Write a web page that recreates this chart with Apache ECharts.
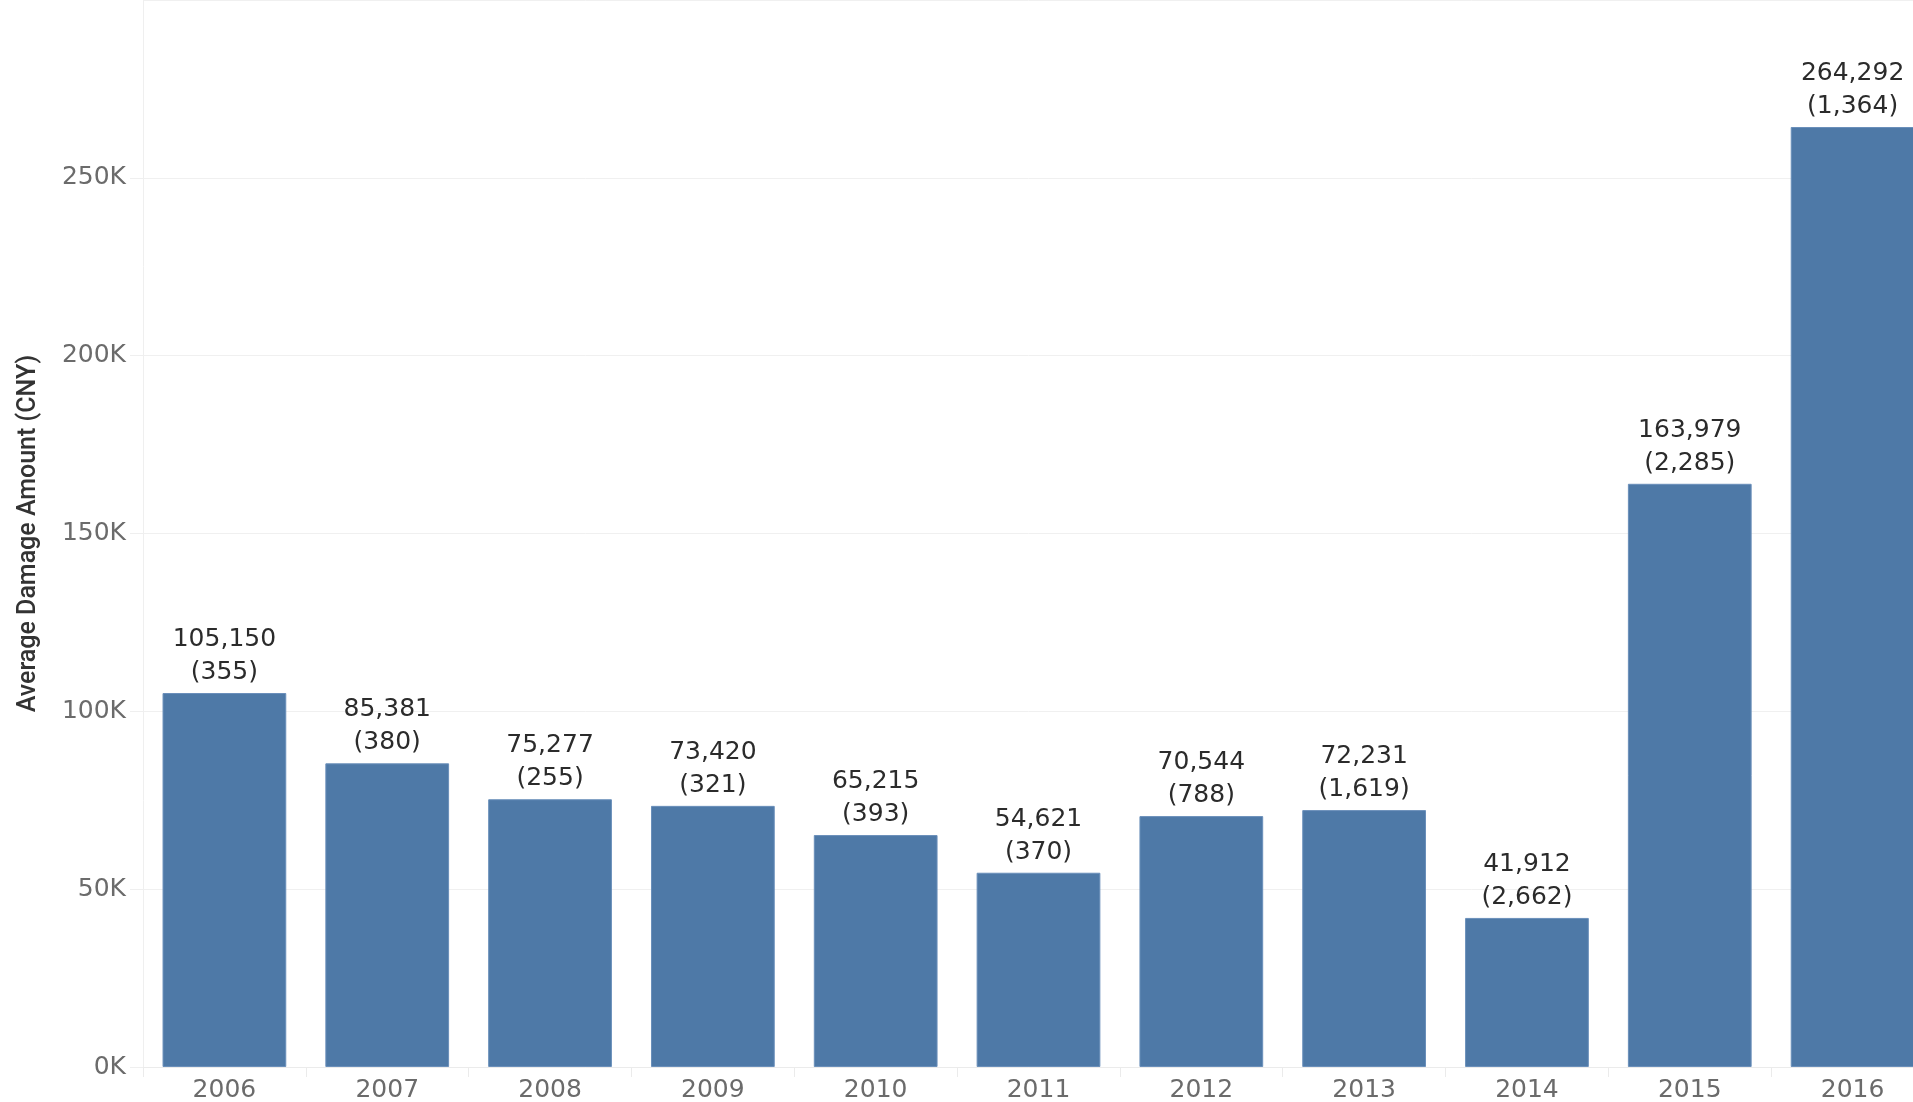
<!DOCTYPE html>
<html>
<head>
<meta charset="utf-8">
<script src="https://cdn.jsdelivr.net/npm/echarts@6/dist/echarts.min.js"></script>
<style>
html,body{margin:0;padding:0;background:#fff;overflow:hidden;}
#chart{width:1913px;height:1102px;}
</style>
</head>
<body>
<div id="chart"></div>
<script>
const years = ['2006','2007','2008','2009','2010','2011','2012','2013','2014','2015','2016'];
const avgDamage = [105150, 85381, 75277, 73420, 65215, 54621, 70544, 72231, 41912, 163979, 264292];
const caseCounts = [355, 380, 255, 321, 393, 370, 788, 1619, 2662, 2285, 1364];
const yTickLabels = ['0K','50K','100K','150K','200K','250K'];

const fmt = v => v.toLocaleString('en-US');
const chart = echarts.init(document.getElementById('chart'));
chart.setOption({
  animation: false,
  backgroundColor: '#ffffff',
  grid: { left: 143, right: -21, top: 0, bottom: 35, containLabel: false, outerBoundsMode: 'none' },
  xAxis: {
    type: 'category',
    data: years,
    axisLine: { show: true, lineStyle: { color: '#ebebeb', width: 1 } },
    axisTick: { show: true, length: 10, lineStyle: { color: '#ebebeb' } },
    axisLabel: { color: '#6b6b6b', fontSize: 25, fontFamily: 'DejaVu Sans, sans-serif', margin: 11 }
  },
  yAxis: {
    type: 'value',
    min: 0,
    max: 300000,
    interval: 50000,
    name: 'Average Damage Amount (CNY)',
    nameLocation: 'middle',
    nameGap: 102,
    nameTextStyle: { color: '#333333', fontSize: 25, fontFamily: 'Roboto, sans-serif', fontWeight: 500 },
    axisLine: { show: true, lineStyle: { color: '#efefef', width: 1 } },
    axisTick: { show: true, length: 13, lineStyle: { color: '#efefef' } },
    axisLabel: {
      color: '#6b6b6b', fontSize: 25, fontFamily: 'DejaVu Sans, sans-serif', margin: 17,
      showMaxLabel: false,
      formatter: v => { const i = Math.round(v / 50000); return i < yTickLabels.length ? yTickLabels[i] : ''; }
    },
    splitLine: { show: true, lineStyle: { color: '#f0f0f0', width: 1 } }
  },
  series: [{
    type: 'bar',
    data: avgDamage,
    barCategoryGap: '24%',
    itemStyle: { color: '#4e79a7', borderColor: '#6a8fba', borderWidth: 1 },
    label: {
      show: true,
      position: 'top',
      distance: 4,
      color: '#2b2b2b',
      fontSize: 25,
      lineHeight: 33,
      fontFamily: 'DejaVu Sans, sans-serif',
      formatter: p => fmt(p.value) + '\n(' + fmt(caseCounts[p.dataIndex]) + ')'
    }
  }]
});
</script>
</body>
</html>
